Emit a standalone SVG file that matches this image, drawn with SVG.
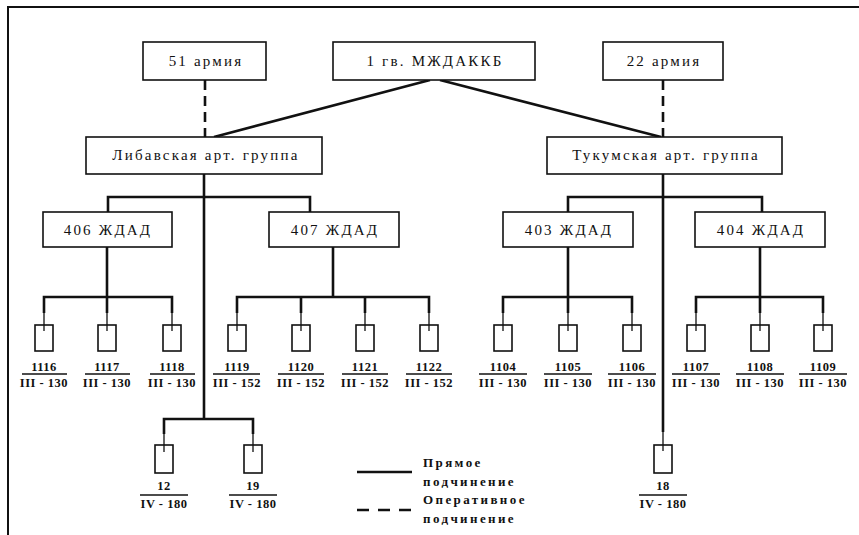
<svg xmlns="http://www.w3.org/2000/svg" width="859" height="535" viewBox="0 0 859 535">
<style>
.box{fill:#fff;stroke:#111;stroke-width:1.6}
.bat{fill:none;stroke:#111;stroke-width:1.6}
.ln{fill:none;stroke:#111;stroke-width:2.6}
.thin{fill:none;stroke:#111;stroke-width:1.3}
.dash{fill:none;stroke:#111;stroke-width:2.6;stroke-dasharray:10 6}
.t{font-family:"Liberation Serif","DejaVu Serif",serif;font-size:15px;fill:#111;text-anchor:middle;letter-spacing:2.2px}
.n{font-family:"Liberation Serif","DejaVu Serif",serif;font-size:12.5px;font-weight:bold;fill:#111;text-anchor:middle;letter-spacing:0.5px}
.lg{font-family:"Liberation Serif","DejaVu Serif",serif;font-size:13px;font-weight:bold;fill:#111;letter-spacing:2.4px}
</style>
<rect width="859" height="535" fill="#fff"/>
<path d="M8 535V7H859" fill="none" stroke="#111" stroke-width="2"/>

<g id="connectors">
<path class="dash" d="M205 80V137"/>
<path class="dash" d="M663 80V137"/>
<path class="ln" d="M430 80L214 137M440 80L661 137"/>
<path class="ln" d="M204 174V419M108 212V197H310V212"/>
<path class="ln" d="M107 247V313M44 313V297H172V313"/>
<path class="ln" d="M333 247V297M237 313V297H429V313M301 297V313M365 297V313"/>
<path class="ln" d="M164 434V419H253V434"/>
<path class="ln" d="M663 174V432M568 212V197H762V212"/>
<path class="ln" d="M568 247V313M503 313V297H632V313"/>
<path class="ln" d="M760 247V313M696 313V297H823V313"/>
<path class="thin" d="M44 313V331M107 313V331M172 313V331M237 313V331M301 313V331M365 313V331M429 313V331M503 313V331M568 313V331M632 313V331M696 313V331M760 313V331M823 313V331M164 434V452M253 434V452M663 432V451"/>
</g>

<g id="n51"><rect class="box" x="143" y="42" width="123" height="38"/><text class="t" x="206" y="66">51 армия</text></g>
<g id="nMZ"><rect class="box" x="333" y="42" width="202" height="38"/><text class="t" x="435" y="66">1 гв. МЖДАККБ</text></g>
<g id="n22"><rect class="box" x="603" y="42" width="120" height="38"/><text class="t" x="664" y="66">22 армия</text></g>
<g id="nLib"><rect class="box" x="86" y="137" width="236" height="37"/><text class="t" x="206" y="160" letter-spacing="4">Либавская арт. группа</text></g>
<g id="nTuk"><rect class="box" x="547" y="137" width="235" height="37"/><text class="t" x="666" y="160" letter-spacing="4">Тукумская арт. группа</text></g>
<g id="n406"><rect class="box" x="43" y="212" width="129" height="35"/><text class="t" x="108" y="235" letter-spacing="3">406 ЖДАД</text></g>
<g id="n407"><rect class="box" x="269" y="212" width="130" height="35"/><text class="t" x="335" y="235" letter-spacing="3">407 ЖДАД</text></g>
<g id="n403"><rect class="box" x="503" y="212" width="130" height="35"/><text class="t" x="569" y="235" letter-spacing="3">403 ЖДАД</text></g>
<g id="n404"><rect class="box" x="695" y="212" width="130" height="35"/><text class="t" x="761" y="235" letter-spacing="3">404 ЖДАД</text></g>

<g id="b1116"><rect class="bat" x="35" y="325" width="18" height="26"/><text class="n" x="44" y="371">1116</text><path class="thin" d="M22 374H67"/><text class="n" x="44" y="387">III - 130</text></g>
<g id="b1117"><rect class="bat" x="98" y="325" width="18" height="26"/><text class="n" x="107" y="371">1117</text><path class="thin" d="M85 374H130"/><text class="n" x="107" y="387">III - 130</text></g>
<g id="b1118"><rect class="bat" x="163" y="325" width="18" height="26"/><text class="n" x="172" y="371">1118</text><path class="thin" d="M150 374H195"/><text class="n" x="172" y="387">III - 130</text></g>
<g id="b1119"><rect class="bat" x="228" y="325" width="18" height="26"/><text class="n" x="237" y="371">1119</text><path class="thin" d="M213 374H260"/><text class="n" x="237" y="387">III - 152</text></g>
<g id="b1120"><rect class="bat" x="292" y="325" width="18" height="26"/><text class="n" x="301" y="371">1120</text><path class="thin" d="M278 374H324"/><text class="n" x="301" y="387">III - 152</text></g>
<g id="b1121"><rect class="bat" x="356" y="325" width="18" height="26"/><text class="n" x="365" y="371">1121</text><path class="thin" d="M342 374H388"/><text class="n" x="365" y="387">III - 152</text></g>
<g id="b1122"><rect class="bat" x="420" y="325" width="18" height="26"/><text class="n" x="429" y="371">1122</text><path class="thin" d="M406 374H452"/><text class="n" x="429" y="387">III - 152</text></g>
<g id="b1104"><rect class="bat" x="494" y="325" width="18" height="26"/><text class="n" x="503" y="371">1104</text><path class="thin" d="M479 374H527"/><text class="n" x="503" y="387">III - 130</text></g>
<g id="b1105"><rect class="bat" x="559" y="325" width="18" height="26"/><text class="n" x="568" y="371">1105</text><path class="thin" d="M544 374H592"/><text class="n" x="568" y="387">III - 130</text></g>
<g id="b1106"><rect class="bat" x="623" y="325" width="18" height="26"/><text class="n" x="632" y="371">1106</text><path class="thin" d="M608 374H656"/><text class="n" x="632" y="387">III - 130</text></g>
<g id="b1107"><rect class="bat" x="687" y="325" width="18" height="26"/><text class="n" x="696" y="371">1107</text><path class="thin" d="M672 374H720"/><text class="n" x="696" y="387">III - 130</text></g>
<g id="b1108"><rect class="bat" x="751" y="325" width="18" height="26"/><text class="n" x="760" y="371">1108</text><path class="thin" d="M736 374H784"/><text class="n" x="760" y="387">III - 130</text></g>
<g id="b1109"><rect class="bat" x="814" y="325" width="18" height="26"/><text class="n" x="823" y="371">1109</text><path class="thin" d="M799 374H847"/><text class="n" x="823" y="387">III - 130</text></g>
<g id="b12"><rect class="bat" x="155" y="445" width="18" height="28"/><text class="n" x="164" y="490">12</text><path class="thin" d="M140 495H188"/><text class="n" x="164" y="508">IV - 180</text></g>
<g id="b19"><rect class="bat" x="244" y="445" width="18" height="28"/><text class="n" x="253" y="490">19</text><path class="thin" d="M229 495H277"/><text class="n" x="253" y="508">IV - 180</text></g>
<g id="b18"><rect class="bat" x="654" y="445" width="18" height="28"/><text class="n" x="663" y="490">18</text><path class="thin" d="M639 495H687"/><text class="n" x="663" y="508">IV - 180</text></g>

<g id="legend">
<path class="ln" d="M357 472H412"/>
<path class="ln" d="M357 510H412" stroke-dasharray="12 9"/>
<text class="lg" x="423" y="467">Прямое</text>
<text class="lg" x="423" y="486">подчинение</text>
<text class="lg" x="423" y="504">Оперативное</text>
<text class="lg" x="423" y="523">подчинение</text>
</g>
</svg>
